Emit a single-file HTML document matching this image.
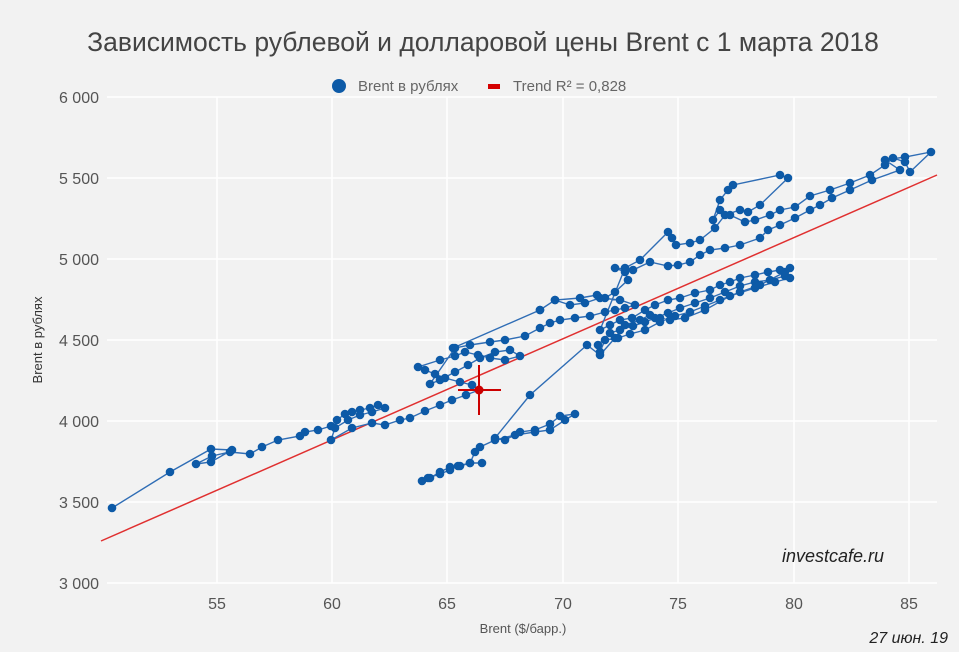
<!DOCTYPE html>
<html><head><meta charset="utf-8"><style>
html,body{margin:0;padding:0;background:#f2f2f2;}
svg{display:block;font-family:"Liberation Sans",Arial,sans-serif;}
</style></head><body>
<svg width="959" height="652" viewBox="0 0 959 652">
<defs>
<marker id="m" markerWidth="10" markerHeight="10" refX="5" refY="5" markerUnits="userSpaceOnUse">
<circle cx="5" cy="5" r="4.3" fill="#0d5aa7"/>
</marker>
</defs>
<rect width="959" height="652" fill="#f2f2f2"/>
<text x="483" y="51" text-anchor="middle" font-size="26.5" fill="#444">Зависимость рублевой и долларовой цены Brent с 1 марта 2018</text>
<circle cx="339" cy="86" r="7" fill="#0d5aa7"/>
<text x="358" y="91" font-size="15" fill="#666">Brent в рублях</text>
<rect x="488" y="84" width="12" height="5" fill="#d40000"/>
<text x="513" y="91" font-size="15" fill="#666">Trend R² = 0,828</text>
<g stroke="#ffffff" stroke-width="1.5">
<line x1="107" y1="97" x2="937" y2="97"/>
<line x1="107" y1="178" x2="937" y2="178"/>
<line x1="107" y1="259" x2="937" y2="259"/>
<line x1="107" y1="340" x2="937" y2="340"/>
<line x1="107" y1="421" x2="937" y2="421"/>
<line x1="107" y1="502" x2="937" y2="502"/>
<line x1="107" y1="583" x2="937" y2="583"/>
<line x1="217" y1="97" x2="217" y2="583"/>
<line x1="332" y1="97" x2="332" y2="583"/>
<line x1="447" y1="97" x2="447" y2="583"/>
<line x1="563" y1="97" x2="563" y2="583"/>
<line x1="678" y1="97" x2="678" y2="583"/>
<line x1="794" y1="97" x2="794" y2="583"/>
<line x1="909" y1="97" x2="909" y2="583"/>
</g>
<g font-size="16" fill="#555" text-anchor="end">
<text x="99" y="103">6 000</text>
<text x="99" y="184">5 500</text>
<text x="99" y="265">5 000</text>
<text x="99" y="346">4 500</text>
<text x="99" y="427">4 000</text>
<text x="99" y="508">3 500</text>
<text x="99" y="589">3 000</text>
</g>
<g font-size="16" fill="#555" text-anchor="middle">
<text x="217" y="609">55</text>
<text x="332" y="609">60</text>
<text x="447" y="609">65</text>
<text x="563" y="609">70</text>
<text x="678" y="609">75</text>
<text x="794" y="609">80</text>
<text x="909" y="609">85</text>
</g>
<text x="523" y="633" font-size="13" fill="#555" text-anchor="middle">Brent ($/барр.)</text>
<text transform="translate(42,340) rotate(-90)" font-size="13" fill="#333" text-anchor="middle">Brent в рублях</text>
<line x1="101" y1="541" x2="937" y2="175" stroke="#e03030" stroke-width="1.5"/>
<polyline fill="none" stroke="#2f6db5" stroke-width="1.4" marker-start="url(#m)" marker-mid="url(#m)" marker-end="url(#m)" points="
112,508 170,472 211,449 232,450 211,462 196,464 212,456 230,452 250,454 262,447 278,440 300,436 305,432 318,430 331,426 337,420 345,414 352,412 360,410 370,408 378,405 385,408 372,412 360,415 348,420 335,428 331,440 352,428 372,423 385,425 400,420 410,418 425,411 440,405 452,400 466,395 479,390 472,385 460,382 445,378 435,374 425,370 418,367 440,360 455,356 465,352 478,355 490,358 505,360 520,356 510,350 495,352 480,358 468,365 455,372 440,380 430,384 455,348 470,345 490,342 505,340 525,336 540,328 550,323 560,320 575,318 590,316 605,312 615,310 625,308 635,305 620,300 600,298 585,303 570,305 555,300 540,310 453,348 540,310 555,300 580,298 597,295 605,298 615,292 628,280 625,272 615,268 633,270 650,262 668,266 678,265 690,262 700,255 710,250 725,248 740,245 760,238 768,230 780,225 795,218 810,210 820,205 832,198 850,190 872,180 900,170 885,160 905,157 931,152 910,172 905,162 893,158 885,165 870,175 850,183 830,190 810,196 795,207 780,210 770,215 755,220 745,222 730,215 720,210 713,220 720,200 728,190 733,185 780,175 788,178 760,205 748,212 740,210 725,215 715,228 700,240 690,243 676,245 672,238 668,232 640,260 625,268 600,330 610,325 620,320 632,318 645,310 655,305 668,300 680,298 695,293 710,290 720,285 730,282 740,278 755,275 768,272 780,270 790,268 785,276 770,280 755,282 740,286 725,292 710,298 695,303 680,308 668,313 655,318 645,322 633,326 620,330 610,333 598,345 600,352 605,340 618,338 630,334 645,330 660,322 675,316 690,312 705,306 720,300 740,292 760,285 785,272 790,278 775,282 755,288 730,296 705,310 685,318 670,320 660,318 650,315 640,320 625,325 615,338 600,355 587,345 530,395 495,438 505,440 520,432 535,430 550,424 560,416 575,414 565,420 550,430 535,432 515,435 495,440 480,447 475,452 470,463 460,466 450,467 440,472 430,478 422,481 428,478 440,474 450,470 458,466 470,463 482,463"/>
<g stroke="#cc0000" stroke-width="2">
<line x1="479" y1="365" x2="479" y2="415"/>
<line x1="458" y1="390" x2="501" y2="390"/>
</g>
<circle cx="479" cy="390" r="4.5" fill="#cc0000"/>
<text x="833" y="562" font-size="18" font-style="italic" fill="#222" text-anchor="middle">investcafe.ru</text>
<text x="948" y="643" font-size="16" font-style="italic" fill="#222" text-anchor="end">27 июн. 19</text>
</svg>
</body></html>
